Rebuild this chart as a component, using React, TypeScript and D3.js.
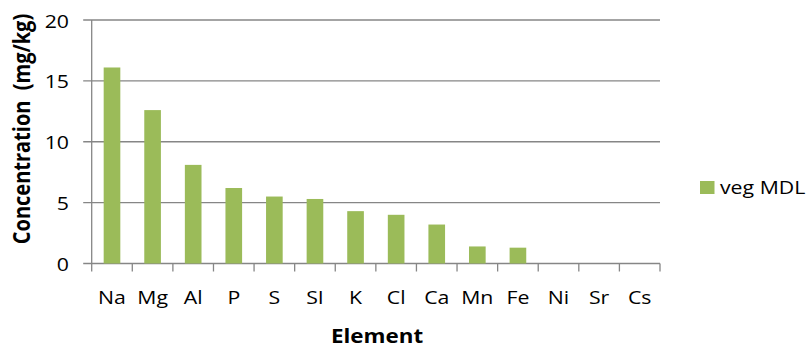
import React from "react";
import * as d3 from "d3";

const elements = ["Na", "Mg", "Al", "P", "S", "SI", "K", "Cl", "Ca", "Mn", "Fe", "Ni", "Sr", "Cs"];
const vegMDL = [16.1, 12.6, 8.1, 6.2, 5.5, 5.3, 4.3, 4.0, 3.2, 1.4, 1.3, 0, 0, 0];
const yTicks = [0, 5, 10, 15, 20];
const seriesName = "veg MDL";
const xTitle = "Element";
const yTitle = "Concentration  (mg/kg)";

const W = 811;
const H = 349;
const left = 91.7;
const right = 660;
const top = 20;
const bottom = 263.5;
const SX = 1.12; // horizontal glyph stretch
const FONT = "'Open Sans', 'Liberation Sans', sans-serif";
const GRID = "#868686";
const BAR = "#9BBB59";

export default function App() {
  const x = d3.scaleBand<string>().domain(elements).range([left, right]).paddingInner(0.59).paddingOuter(0.295);
  const step = (right - left) / elements.length;
  const y = d3.scaleLinear().domain([0, 20]).range([bottom, top]);

  return (
    <svg width={W} height={H} style={{ position: "absolute", left: 0, top: 0, background: "#fff" }}>
      {/* gridlines + y ticks */}
      {yTicks.map((t) => (
        <line key={"g" + t} x1={left - 8.5} x2={right} y1={y(t)} y2={y(t)} stroke={GRID} strokeWidth={1.3} />
      ))}
      {/* y axis line */}
      <line x1={left} x2={left} y1={top} y2={bottom} stroke={GRID} strokeWidth={1.3} />
      {/* x category boundary ticks */}
      {d3.range(elements.length + 1).map((i) => (
        <line key={"xt" + i} x1={left + i * step} x2={left + i * step} y1={bottom} y2={bottom + 8} stroke={GRID} strokeWidth={1.3} />
      ))}
      {/* bars */}
      {elements.map((e, i) => (
        <rect key={e} x={x(e)} width={x.bandwidth()} y={y(vegMDL[i])} height={bottom - y(vegMDL[i])} fill={BAR} />
      ))}
      {/* y tick labels */}
      {yTicks.map((t) => (
        <text
          key={"yl" + t}
          transform={`translate(69,${y(t)}) scale(${SX},1)`}
          textAnchor="end"
          dominantBaseline="central"
          fontFamily={FONT}
          fontSize={19}
          fill="#000"
        >
          {t}
        </text>
      ))}
      {/* category labels */}
      {elements.map((e) => (
        <text
          key={"xl" + e}
          transform={`translate(${(x(e) as number) + x.bandwidth() / 2},303.5) scale(${SX},1)`}
          textAnchor="middle"
          fontFamily={FONT}
          fontSize={19}
          fill="#000"
        >
          {e}
        </text>
      ))}
      {/* axis titles */}
      <text
        transform={`translate(377,343) scale(1.12,1)`}
        textAnchor="middle"
        fontFamily={FONT}
        fontWeight="bold"
        fontSize={20}
        fill="#000"
      >
        {xTitle}
      </text>
      <text
        transform={`translate(30,129) scale(1.12,1) rotate(-90)`}
        textAnchor="middle"
        fontFamily={FONT}
        fontWeight="bold"
        fontSize={20}
        fill="#000"
        style={{ whiteSpace: "pre" }}
      >
        {yTitle}
      </text>
      {/* legend */}
      <rect x={700} y={181} width={14.5} height={13} fill={BAR} />
      <text transform={`translate(720,194.3) scale(${SX},1)`} fontFamily={FONT} fontSize={19} fill="#000">
        {seriesName}
      </text>
    </svg>
  );
}
